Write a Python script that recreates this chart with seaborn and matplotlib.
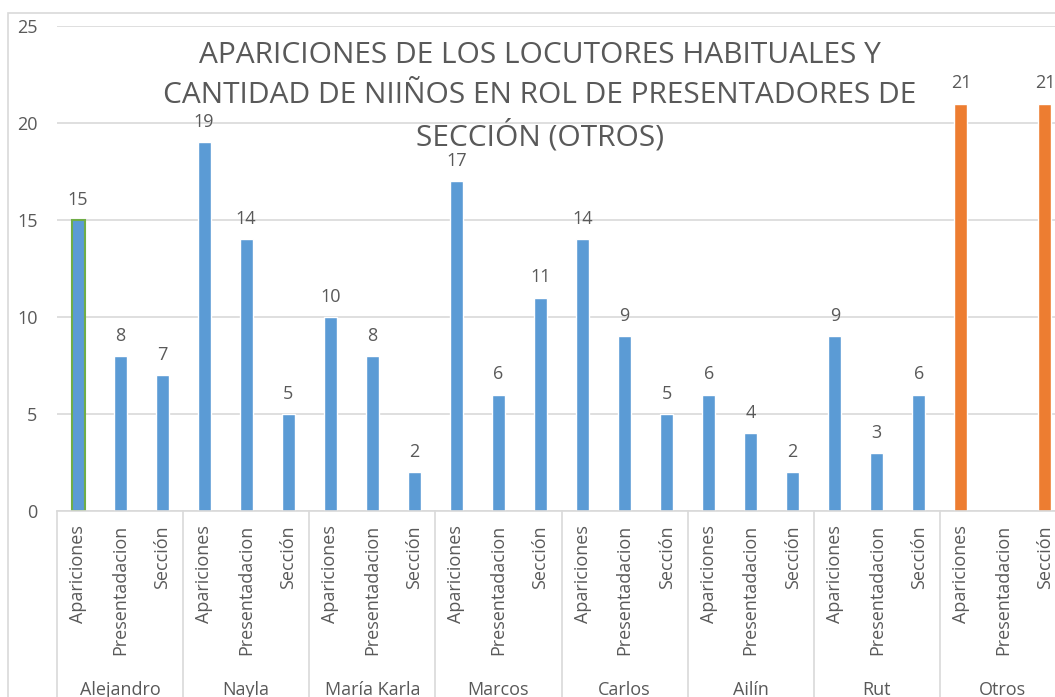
import numpy as np
import pandas as pd
import matplotlib.pyplot as plt
import matplotlib.patches as mpatches
import matplotlib.transforms as mtransforms
import seaborn as sns

# datos del gráfico
locutores = ['Alejandro', 'Nayla', 'María Karla', 'Marcos', 'Carlos', 'Ailín', 'Rut', 'Otros']
tipos = ['Apariciones', 'Presentadacion', 'Sección']
apariciones = [15, 19, 10, 17, 14, 6, 9, 21]
presentacion = [8, 14, 8, 6, 9, 4, 3, np.nan]
seccion = [7, 5, 2, 11, 5, 2, 6, 21]

titulo = ['APARICIONES DE LOS LOCUTORES HABITUALES Y',
          'CANTIDAD DE NIIÑOS EN ROL DE PRESENTADORES DE',
          'SECCIÓN (OTROS)']

# tabla larga, una fila por barra
filas = []
for i, loc in enumerate(locutores):
    for tipo, serie in zip(tipos, [apariciones, presentacion, seccion]):
        filas.append({'locutor': loc, 'tipo': tipo,
                      'clave': f'{loc}|{tipo}', 'valor': serie[i]})
df = pd.DataFrame(filas)
orden = list(df['clave'])

azul = '#5B9BD5'
naranja = '#ED7D31'
verde = '#70AD47'
gris_txt = '#595959'
gris_lin = '#D9D9D9'
colores = {c: (naranja if c.startswith('Otros') else azul) for c in orden}

sns.set_style('white')
plt.rcParams['font.family'] = ['Open Sans', 'DejaVu Sans']

fig = plt.figure(figsize=(10.55, 6.97), dpi=100)
W, H = 1055, 697
ax = fig.add_axes([57 / W, (H - 511) / H, 1009 / W, 485 / H])

sns.barplot(data=df.dropna(), x='clave', y='valor', hue='clave', order=orden,
            hue_order=orden, palette=colores, legend=False, width=0.31,
            saturation=1, ax=ax)

# borde verde en la primera barra
ax.patches[0].set_edgecolor(verde)
ax.patches[0].set_linewidth(1.5)

# etiquetas de datos
for p in ax.patches:
    h = p.get_height()
    if np.isnan(h):
        continue
    ax.annotate(f'{h:.0f}', (p.get_x() + p.get_width() / 2, h),
                xytext=(0, 11), textcoords='offset points',
                ha='center', va='baseline', fontsize=13, color=gris_txt)

ax.set_xlim(-0.5, len(orden) - 0.5)
ax.set_ylim(0, 25)
ax.set_yticks(range(0, 26, 5))
ax.tick_params(axis='y', length=0, pad=14, labelsize=13, labelcolor=gris_txt)
ax.set_xticks(range(len(orden)))
ax.set_xticklabels(list(df['tipo']), rotation=90, va='top')
ax.tick_params(axis='x', length=0, pad=10, labelsize=13, labelcolor=gris_txt)
ax.set_xlabel('')
ax.set_ylabel('')
ax.grid(axis='y', color=gris_lin, linewidth=1.2)
ax.set_axisbelow(True)
for lado in ['top', 'right', 'left']:
    ax.spines[lado].set_visible(False)
ax.spines['bottom'].set_color(gris_lin)
ax.spines['bottom'].set_linewidth(1.2)

# separadores de grupo y nombres de locutores
trans = mtransforms.blended_transform_factory(ax.transData, fig.transFigure)
for g in range(len(locutores) + 1):
    xg = g * 3 - 0.5
    ax.plot([xg, xg], [(H - 511) / H, 0], transform=trans, color=gris_lin,
            lw=1.2, clip_on=False)
for g, loc in enumerate(locutores):
    ax.text(g * 3 + 1, (H - 681) / H, loc, transform=trans, ha='center',
            va='top', fontsize=13, color=gris_txt)

# título, una línea por texto
for linea, base in zip(titulo, [63, 103, 145]):
    fig.text(540 / W, 1 - base / H, linea, ha='center', va='baseline',
             fontsize=21.5, color=gris_txt)

# marco del gráfico
fig.patches.append(mpatches.Rectangle((8 / W, -0.1), 2, (H - 13) / H + 0.1,
                                      transform=fig.transFigure, fill=False,
                                      edgecolor=gris_lin, lw=1.2))

fig.savefig('out.png', dpi=100)
